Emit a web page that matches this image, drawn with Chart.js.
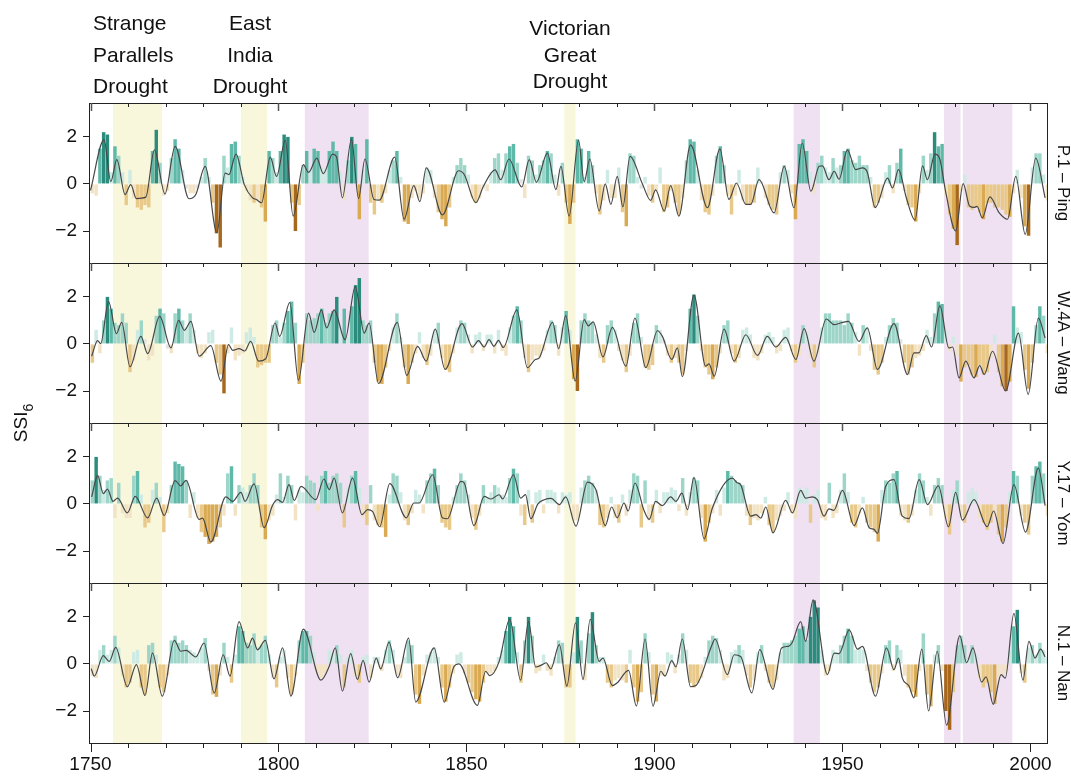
<!DOCTYPE html>
<html>
<head>
<meta charset="utf-8">
<script src="https://cdn.jsdelivr.net/npm/chart.js@4.4.1/dist/chart.umd.min.js"></script>
<style>
  html, body { margin: 0; padding: 0; background: #fff; }
  #wrap { position: relative; width: 1071px; height: 776px; }
</style>
</head>
<body>
<div id="wrap"><canvas id="chart"></canvas></div>
<script>
// Primer año de las barras anuales
const firstYear = 1750;

// Nombres de los paneles (arriba -> abajo)
const panelNames = ['P.1 – Ping', 'W.4A – Wang', 'Y.17 – Yom', 'N.1 – Nan'];

// Sequías históricas [inicio, fin, tipo]
const droughts = [
  [1756, 1769, 'y'], [1790, 1797, 'y'], [1876, 1879, 'y'],
  [1807, 1824, 'p'], [1937, 1944, 'p'], [1977, 1981.4, 'p'], [1982, 1995.2, 'p']
];
const droughtNames = [
  ['Strange', 'Parallels', 'Drought'],
  ['East', 'India', 'Drought'],
  ['Victorian', 'Great', 'Drought']
];

const xLabelYears = [1750, 1800, 1850, 1900, 1950, 2000];
const xTickYears = [1750,1760,1770,1780,1790,1800,1810,1820,1830,1840,1850,1860,1870,1880,1890,1900,1910,1920,1930,1940,1950,1960,1970,1980,1990,2000];
const yTicks = [-2, 0, 2];

// SSI6 anual (barras)
const pingBars = [
  -0.4,-0.5,1.5,2.2,2.1,0.5,1.6,1.2,0.5,-0.9,
  0.6,-0.6,-1.0,-1.1,-0.9,-1.0,1.4,2.3,0.9,-0.5,
  -0.3,1.1,1.9,1.5,0.6,-0.2,-0.4,-0.4,-0.2,0.3,
  1.1,0.3,-0.8,-2.1,-2.7,1.2,0.7,1.7,1.8,1.2,
  0.3,-0.3,-0.7,-0.8,-0.7,-1.0,-1.6,1.4,1.1,0.5,
  1.4,2.1,2.0,-0.8,-2.0,-0.9,0.8,1.4,0.6,1.5,
  1.4,0.7,0.6,1.4,1.8,1.4,0.5,-0.7,1.0,2.0,
  1.7,-1.5,0.6,1.9,-0.8,-1.3,-0.7,-0.8,-0.4,0.6,
  1.0,1.4,0.3,-1.6,-1.7,-0.6,-0.3,-0.6,-0.4,0.7,
  0.6,-0.6,-1.2,-1.5,-1.8,-1.0,0.3,0.8,1.1,0.8,
  0.4,-0.6,-0.8,-0.6,-0.2,-0.3,0.5,1.1,1.3,0.6,
  1.3,1.6,1.7,0.9,0.2,-0.6,1.2,1.0,0.4,0.8,
  1.0,1.4,1.3,0.4,-0.5,0.9,-0.8,-1.7,-0.8,1.9,
  1.5,0.3,1.4,0.8,-0.4,-1.3,-0.7,0.6,-0.6,-0.6,
  0.7,-1.2,-1.8,1.3,1.2,0.3,-0.2,0.3,-0.5,-0.8,
  -0.3,0.7,-1.2,-1.0,-0.3,-0.8,-1.3,-0.6,1.0,1.9,
  1.8,0.6,-0.7,-1.2,-1.3,-0.5,1.2,1.6,0.8,-0.5,
  -1.3,-0.5,0.6,-0.7,-0.9,-0.9,-0.8,0.7,0.1,-0.6,
  -0.9,-1.1,-1.3,0.5,0.8,0.6,-0.4,-1.5,1.7,1.9,
  1.4,0.5,-0.4,0.9,1.2,0.7,0.5,1.1,0.7,0.8,
  1.4,1.5,1.0,0.9,1.2,0.8,0.8,0.3,-1.0,-0.8,
  -0.6,0.5,0.8,-0.4,0.9,1.5,-0.3,-0.9,-1.0,-1.6,
  -0.4,1.2,0.6,1.3,2.2,1.6,1.7,-0.5,-1.3,-1.9,
  -2.6,-0.3,0.4,-1.0,-1.1,-1.0,-1.2,-1.5,-0.8,-0.8,
  -1.0,-1.0,-1.1,-1.3,-1.4,-0.4,0.6,-0.6,-1.8,-2.2,
  0.7,1.3,1.3,0.4,-0.7
];
const wangBars = [
  -0.8,0.6,-0.4,1.0,2.0,1.5,0.9,0.8,1.3,0.9,
  -1.2,-0.7,0.6,1.0,0.2,-0.7,-0.5,1.2,1.5,1.3,
  -0.2,-0.4,1.3,1.5,1.0,0.7,1.3,0.6,-0.4,-0.6,
  -0.4,0.5,0.6,-0.8,-1.3,-2.1,-0.4,0.7,-0.7,-0.5,
  -0.4,0.5,0.7,0.3,-1.0,-0.9,-0.8,-0.8,0.8,1.0,
  0.3,0.9,1.4,1.8,0.9,-1.7,-0.8,1.3,1.0,1.1,
  1.3,1.5,0.9,1.3,1.4,2.0,0.6,1.5,0.3,1.6,
  2.5,2.8,1.0,0.8,1.0,-0.8,-1.6,-1.7,-1.0,-0.3,
  0.7,1.3,0.3,-1.0,-1.7,-0.8,-0.4,0.5,-0.6,-0.9,
  -0.5,0.6,0.9,-0.6,-1.1,-1.2,-0.4,0.7,1.0,0.9,
  0.4,-0.4,0.4,0.5,-0.3,0.4,0.4,-0.4,0.6,-0.3,
  -0.5,0.7,1.2,1.6,1.0,-0.6,-1.2,-0.7,-0.5,-0.6,
  -0.3,0.6,1.0,0.8,-0.5,0.7,1.4,0.6,-1.5,-2.0,
  1.0,1.3,1.0,0.9,0.4,-0.6,-0.8,0.8,1.0,0.6,
  -0.3,-0.7,-1.2,-0.5,0.9,1.3,0.3,-1.0,-1.1,-0.9,
  0.8,0.6,0.2,-0.5,-0.8,-0.6,-0.8,-1.3,-0.3,1.5,
  2.1,1.2,-0.3,-1.0,-1.3,-1.5,-1.0,-0.4,0.8,1.0,
  -0.4,-0.8,-0.6,0.6,0.7,0.4,-0.6,-0.7,-0.4,0.4,
  0.5,0.3,-0.4,-0.3,0.6,0.7,-0.3,-0.8,-0.5,0.8,
  0.5,-0.6,-1.0,-0.4,0.7,1.3,1.3,1.0,1.0,1.0,
  0.8,1.3,0.9,0.5,-0.5,0.8,0.7,-0.3,-1.1,-1.3,
  -0.8,0.3,0.8,1.1,0.9,0.2,-0.8,-1.3,-1.0,-0.6,
  -0.5,-0.3,0.6,0.3,1.3,1.8,1.7,0.6,-0.3,0.3,
  -0.5,-1.6,-1.0,-0.9,-1.3,-1.4,-0.9,-1.3,-1.2,-0.6,
  0.4,-1.2,-1.8,-2.0,-1.6,1.6,0.7,0.5,-1.1,-1.9,
  -0.8,0.8,1.6,1.2,-0.4
];
const yomBars = [
  1.0,2.0,1.2,0.6,1.0,1.1,-0.6,0.9,-0.4,-0.6,
  -0.6,1.2,1.4,0.4,-1.0,-0.8,0.6,0.9,0.3,-1.2,
  -0.4,0.8,1.8,1.7,1.6,1.0,-0.6,0.5,-0.6,-1.2,
  -1.4,-1.7,-1.6,-1.4,-1.0,-0.5,1.3,1.6,-0.5,0.8,
  0.7,0.5,0.8,1.3,0.8,-1.0,-1.5,-0.7,-0.5,0.4,
  1.3,0.3,1.2,0.8,-0.7,0.6,0.5,1.2,1.0,0.9,
  -0.3,1.2,1.4,0.9,1.2,1.3,0.9,-1.0,0.7,1.2,
  1.4,0.7,-0.6,-0.9,0.8,-0.7,-0.9,-1.0,-1.4,0.4,
  1.3,1.2,0.5,-0.7,-0.9,-0.4,0.6,0.4,-0.4,1.0,
  1.3,1.5,0.8,-0.8,-1.0,-1.1,0.3,0.8,1.3,1.0,
  0.4,-0.6,-1.1,-0.5,0.8,0.3,0.5,0.8,0.7,0.4,
  0.3,1.1,1.5,1.3,-0.5,-0.9,0.6,-0.8,0.5,0.6,
  -0.4,0.6,0.6,0.5,-0.4,0.5,0.4,0.5,-0.7,-0.7,
  0.7,1.0,1.2,0.9,0.6,-0.9,-1.0,-0.6,0.3,-0.6,
  -0.8,0.4,-0.5,0.6,1.3,1.2,-1.0,1.0,-0.7,-0.8,
  0.6,-0.4,0.5,0.5,0.7,0.6,-0.3,1.1,-0.5,0.5,
  1.1,1.0,-0.6,-1.6,-0.8,-0.4,0.6,-0.5,0.7,1.4,
  1.2,1.0,0.9,0.8,-0.5,-0.9,-0.6,-0.7,-0.4,0.3,
  -0.9,-1.2,-0.7,-0.5,-0.3,0.5,-0.4,-0.6,0.7,0.6,
  0.7,-0.8,0.4,0.6,-0.6,-0.7,0.9,-0.6,-0.4,0.6,
  1.3,0.5,-0.8,-1.0,-0.4,0.3,-0.8,-1.0,-1.2,-1.6,
  0.6,1.0,0.9,1.3,1.4,-0.5,-0.7,-0.8,-0.5,0.6,
  1.3,1.0,0.3,-0.5,0.8,1.1,0.8,-0.6,-1.3,0.6,
  1.0,-0.6,-0.8,0.5,0.7,0.5,-0.6,-0.8,-1.1,-0.8,
  -0.5,-1.3,-1.6,-1.0,0.5,1.4,1.2,-0.5,-0.8,-1.3,
  1.2,1.6,1.8,1.3,-0.5
];
const nanBars = [
  -0.5,-0.6,0.6,0.8,0.4,0.6,1.2,0.7,-0.5,-1.0,
  -0.8,0.5,0.6,-1.0,-1.3,0.8,0.9,0.4,-1.0,-1.2,
  -0.5,1.0,1.2,0.9,1.0,0.8,0.6,0.5,0.4,0.7,
  1.1,-0.3,-1.3,-1.4,-0.5,0.9,0.3,-0.8,0.4,1.6,
  1.4,0.9,0.8,1.3,0.7,0.8,1.2,0.4,-0.6,-1.0,
  0.3,0.6,-0.6,-1.3,-0.5,1.0,1.4,1.4,1.2,0.5,
  -0.4,-0.6,-0.4,0.6,0.5,0.8,0.4,-1.0,0.3,0.6,
  -0.5,-0.8,0.3,0.4,-0.6,0.3,0.3,-0.3,0.6,1.0,
  0.6,-0.5,-0.6,0.3,1.0,0.8,-1.3,-1.7,-0.5,0.4,
  0.5,0.7,0.3,-1.0,-1.6,-1.0,-0.4,0.4,0.5,-0.4,
  -0.8,-1.2,-1.5,-1.6,-0.8,-0.4,-0.4,-0.3,0.3,0.6,
  1.4,2.0,1.6,0.5,-0.8,1.0,2.0,1.2,-0.4,-0.3,
  0.4,-0.3,-0.5,0.3,1.0,0.9,-1.0,-1.0,0.5,2.0,
  1.0,-0.7,1.3,2.2,0.8,0.3,0.3,-0.8,-1.0,-0.7,
  -0.6,-0.7,-0.8,0.6,-1.0,-1.6,-1.2,1.3,0.5,-1.3,
  -1.6,-0.5,-0.5,0.5,0.4,-0.4,0.4,1.3,0.6,-0.8,
  -1.0,-0.8,-0.6,0.3,1.0,1.2,1.1,0.6,-0.7,-0.6,
  0.5,0.6,0.8,0.6,-0.5,-1.0,-0.7,0.5,0.8,-0.3,
  -0.8,-1.0,-0.7,0.5,0.9,0.9,1.0,1.2,1.5,1.6,
  1.0,2.0,2.7,2.4,0.6,-0.5,-0.3,0.6,0.5,0.8,
  1.2,1.5,1.2,0.6,0.7,0.6,-0.3,-0.8,-1.2,-1.0,
  -0.4,0.8,1.0,-0.3,0.8,0.6,-0.5,-1.0,-1.2,-1.4,
  -0.3,1.3,-1.3,-1.8,0.4,0.8,-0.3,-2.0,-2.8,-1.2,
  0.8,1.2,0.8,0.3,0.8,0.4,-0.6,-1.0,-0.8,-1.2,
  -1.7,-0.6,-0.5,-0.4,0.6,1.6,2.3,-0.4,-0.8,0.7,
  0.8,0.4,0.9,0.6,0.3
];

// Curva suavizada [año, valor]
const pingLine = [
  [1750,-0.27],[1753.6,1.87],[1755.4,0.1],[1757,1.03],[1759.2,-0.45],[1760.7,-0.03],[1762.2,-0.62],[1764.7,-0.56],
  [1767,1.45],[1769.8,-0.42],[1772.5,1.6],[1776.2,-0.63],[1778,-0.45],[1780.5,0.75],[1783.6,-2.07],[1785.8,0.46],
  [1786.8,0.4],[1788.7,1.27],[1790.9,-0.03],[1793.1,-0.59],[1794.1,-0.66],[1795.5,-0.8],[1797.8,1.14],[1799.5,0.32],
  [1801.8,1.85],[1803.9,-1.37],[1806.6,0.82],[1808,0.49],[1810.2,1.1],[1811.9,0.44],[1814.4,1.27],[1815.4,1.17],
  [1817,-0.59],[1819.4,1.9],[1821.3,-0.62],[1823,1.06],[1825.4,-0.66],[1826.8,-0.69],[1830.9,1.14],[1833.4,-1.5],
  [1836,-0.07],[1837.6,-0.75],[1839.3,0.68],[1843.6,-1.32],[1847.9,0.56],[1849.4,0.4],[1852.5,-0.8],[1854.5,-0.1],
  [1857.6,0.6],[1859.1,0.18],[1861.3,1.06],[1864.7,-0.13],[1866.7,1.03],[1868.6,0.07],[1871.5,1.31],[1873.8,-0.24],
  [1875.1,0.75],[1877.3,-1.37],[1879.8,1.85],[1881.3,0.1],[1882.8,1.06],[1885.3,-1.15],[1886.9,0.0],[1888.4,-0.87],
  [1890.1,0.32],[1891.6,-0.97],[1893.5,1.17],[1896.8,0.0],[1899,-0.7],[1900.3,-0.25],[1902.6,-1.15],[1904.3,-0.07],
  [1906.5,-1.37],[1909.6,1.66],[1914.1,-1.01],[1917.4,1.49],[1919.8,-0.66],[1921.8,0.04],[1924.3,-0.87],[1925.6,-0.87],
  [1927.8,0.18],[1931.8,-1.23],[1934.5,0.75],[1937.1,-1.01],[1939.3,1.73],[1941.6,-0.31],[1943.8,0.75],[1944.7,0.77],
  [1946.4,0.18],[1947.8,0.54],[1949.1,0.2],[1951.3,1.45],[1953.5,0.61],[1955.3,0.68],[1956.6,0.5],[1958.7,-1.01],
  [1962,0.25],[1963.3,-0.17],[1964.9,0.61],[1967,-0.6],[1969.3,-1.54],[1971.3,0.77],[1972.6,0.18],[1974.6,1.27],
  [1975.8,1.1],[1977.5,-0.38],[1980.1,-2.0],[1982.1,0.01],[1983.8,-0.94],[1985,-1.0],[1985.8,-0.95],[1987.2,-1.44],
  [1989.2,-0.55],[1991.7,-1.23],[1993.9,-1.5],[1996.1,0.32],[1998.6,-2.14],[2001.4,1.1],[2003.9,-0.59]
];
const wangLine = [
  [1750.3,-0.52],[1751.9,0.14],[1752.7,0.01],[1754.8,1.8],[1756.9,0.44],[1758.3,0.92],[1760.5,-0.97],[1763.4,0.32],
  [1765.2,-0.41],[1768.4,1.17],[1771.4,-0.17],[1773.4,1.0],[1775,0.58],[1776.7,0.96],[1778.9,-0.52],[1782,-0.07],
  [1784.7,-1.58],[1786.7,-0.03],[1787.8,-0.27],[1789.5,-0.2],[1791,-0.3],[1792.6,0.11],[1794.7,-0.73],[1796.6,-0.63],
  [1799.1,0.89],[1800.3,0.32],[1803,1.76],[1805.3,-1.54],[1808,1.31],[1809.5,0.49],[1811.4,1.45],[1812.8,0.68],
  [1814.8,1.45],[1817.7,0.18],[1820.4,2.44],[1822.8,0.46],[1824.1,0.89],[1826.6,-1.68],[1831.6,0.92],[1834.1,-1.34],
  [1837,-0.1],[1839.3,-0.73],[1841.7,0.63],[1844.3,-1.08],[1848.8,0.86],[1851.6,-0.13],[1853.2,0.14],[1854.7,-0.13],
  [1856,0.18],[1857.3,-0.1],[1858.5,0.15],[1859.8,-0.15],[1863.4,1.45],[1866.2,-1.01],[1868.3,-0.66],[1869.3,-0.6],
  [1872.9,0.92],[1874.5,-0.2],[1876.4,1.2],[1878.9,-1.58],[1881.3,1.03],[1882.4,0.77],[1883.7,0.94],[1886.3,-0.55],
  [1888.8,0.7],[1892.4,-0.94],[1894.8,1.1],[1897.7,-1.01],[1900.8,0.56],[1902.1,0.32],[1904.6,-0.66],[1906.1,-0.17],
  [1907.4,-1.39],[1910.5,2.08],[1913.6,-0.94],[1914.5,-0.85],[1915.9,-1.37],[1918.5,0.63],[1921.2,-0.73],[1924.3,0.39],
  [1927.4,-0.49],[1930,0.32],[1932.3,-0.13],[1934.9,0.28],[1937.6,-0.66],[1939.8,0.65],[1942.4,-0.73],[1945.7,1.06],
  [1947.8,0.82],[1949.5,0.89],[1951.6,0.96],[1954.4,0.11],[1956.6,0.68],[1959.3,-1.08],[1963.7,0.86],[1967.3,-1.3],
  [1969,-0.38],[1970.3,-0.38],[1972.3,0.35],[1973.7,-0.13],[1975.9,1.62],[1978.3,-0.17],[1979.3,-0.13],[1981,-1.44],
  [1982.8,-0.73],[1985,-1.44],[1986.5,-0.92],[1987.7,-1.3],[1989.9,-0.31],[1993.4,-2.0],[1996.8,0.46],[1999.4,-2.14],
  [2002.1,1.1],[2003.9,0.25]
];
const yomLine = [
  [1750.3,0.3],[1751.9,1.2],[1753.4,0.44],[1754.5,0.63],[1756,0.11],[1757.2,0.25],[1759.8,-0.38],[1761.9,0.32],
  [1765.2,-0.59],[1767.6,0.25],[1769.6,-0.49],[1772.5,0.99],[1774,0.77],[1775.4,1.0],[1778.9,-0.66],[1779.8,-0.6],
  [1782,-1.62],[1786,0.3],[1787.8,0.11],[1790,0.49],[1791.1,0.11],[1793.5,0.85],[1796.2,-1.01],[1798.4,-0.07],
  [1799.7,0.18],[1801.1,0.07],[1802.8,0.82],[1804.2,0.15],[1806,0.75],[1809.9,0.18],[1812.1,1.06],[1813.5,0.61],
  [1814.8,1.1],[1817,-0.38],[1819.7,1.1],[1822.2,-0.45],[1823.7,-0.24],[1825,-0.32],[1826.9,-0.97],[1829.6,0.86],
  [1834,-0.59],[1836,0.04],[1837.4,0.04],[1841,1.24],[1843.6,-0.59],[1844.9,-0.63],[1848.5,0.96],[1849.4,0.89],
  [1852,-0.92],[1854.7,0.32],[1856.5,0.21],[1858.7,0.39],[1859.6,0.21],[1862.5,1.24],[1864.4,0.25],[1865.7,0.4],
  [1867.1,-0.63],[1869,0.0],[1870.7,0.18],[1872.5,0.24],[1874.7,-0.03],[1876.4,0.3],[1879.1,-0.94],[1882.2,0.93],
  [1884.4,0.61],[1886.9,-0.92],[1888.6,-0.13],[1890.1,-0.59],[1891.9,0.04],[1893,-0.3],[1894.8,0.89],[1897.2,-0.27],
  [1898.6,-0.66],[1900.3,0.11],[1902.1,-0.07],[1904.3,0.3],[1905.7,0.11],[1907.3,0.46],[1908.8,-0.24],[1910.5,1.13],
  [1913.2,-1.48],[1915.4,-0.17],[1920.7,1.1],[1922,0.9],[1922.9,0.82],[1925.6,-0.52],[1927,-0.45],[1928.3,-0.6],
  [1929.6,-0.13],[1931.5,-1.23],[1934.9,0.15],[1936.7,-0.38],[1938.9,0.58],[1940.2,0.25],[1942,0.3],[1943.3,0.18],
  [1945.1,-0.52],[1946.4,-0.21],[1947.7,-0.27],[1950,0.58],[1953.1,-0.92],[1955.3,-0.17],[1957.1,-1.01],[1958.4,-1.08],
  [1959.3,-1.25],[1961.5,0.75],[1963.7,1.03],[1965.9,-0.52],[1967.7,-0.62],[1970.4,1.03],[1972.6,-0.03],[1975.5,0.77],
  [1978.2,-0.97],[1980.1,0.49],[1981.9,-0.69],[1985,0.18],[1988.5,-0.97],[1990.2,-0.3],[1992.7,-1.68],[1995.6,0.82],
  [1998.7,-1.2],[2002.1,1.52],[2003.9,-0.07]
];
const nanLine = [
  [1750.2,-0.2],[1751,-0.52],[1753.4,0.35],[1755,0.11],[1756.7,0.7],[1759.8,-0.97],[1762.2,-0.03],[1764.5,-1.34],
  [1766.5,0.46],[1769.1,-1.37],[1772.3,1.0],[1774,0.54],[1775.4,0.58],[1778,0.3],[1780.2,0.89],[1782.9,-1.23],
  [1785.3,0.39],[1787.1,-0.52],[1789.5,1.8],[1791.8,0.68],[1793.1,1.1],[1794.4,0.6],[1796.5,1.0],[1798.8,-0.63],
  [1801.1,0.68],[1803.3,-1.37],[1806.6,1.48],[1811.3,-0.69],[1813.5,-0.1],[1815.1,0.68],[1817,-1.15],[1819.2,0.44],
  [1821,-0.66],[1822.5,0.15],[1824.1,-0.77],[1826,0.25],[1827.2,-0.21],[1829.4,0.93],[1831.7,-0.59],[1834.6,1.1],
  [1836.5,-1.62],[1841.4,0.68],[1844.1,-1.62],[1846.7,-0.1],[1848,0.0],[1852.9,-1.76],[1855.1,-0.31],[1856.2,-0.5],
  [1858.7,0.11],[1861.5,1.9],[1864.4,-0.69],[1866.5,1.8],[1868.4,-0.13],[1870.2,-0.03],[1871.2,0.05],[1872.4,-0.21],
  [1874.7,0.82],[1876.7,-0.94],[1879,1.75],[1881,-0.66],[1882.9,1.9],[1885.3,0.11],[1886.3,0.25],[1888.8,-0.92],
  [1890.1,-0.8],[1893.1,-0.27],[1895.2,-1.79],[1897.5,1.06],[1899.6,-1.79],[1901.7,-0.31],[1902.8,-0.52],[1904.6,0.14],
  [1905.7,-0.13],[1907.4,1.06],[1909.6,-0.97],[1911,-0.92],[1915.4,0.85],[1916.1,1.06],[1919.4,-0.45],[1921.2,0.39],
  [1922.9,0.32],[1925.9,-1.23],[1928,0.61],[1931.5,-1.08],[1933.8,0.68],[1935.6,0.75],[1936.6,0.9],[1938.9,1.8],
  [1940.2,0.96],[1942.2,2.72],[1946,-0.45],[1947.8,0.46],[1949.1,0.44],[1951.8,1.45],[1954,0.63],[1955.3,0.75],
  [1958.8,-1.37],[1961.7,0.68],[1963.7,-0.24],[1964.9,0.25],[1965.9,-0.59],[1967.7,-0.94],[1969,-1.44],[1971.1,0.63],
  [1972.9,-2.0],[1975.2,0.54],[1977.7,-2.6],[1981.2,1.2],[1983,0.05],[1984.7,0.68],[1987,-0.77],[1988.2,-0.55],
  [1990.1,-1.72],[1992.2,-0.45],[1993.3,-0.6],[1995.6,2.15],[1998,-0.69],[1999.6,0.96],[2001.2,0.25],[2002.7,0.63],
  [2003.9,0.3]
];

const panelBars = [pingBars, wangBars, yomBars, nanBars];
const panelLines = [pingLine, wangLine, yomLine, nanLine];

// Estilo
const FONT = '"Liberation Sans", Arial, Helvetica, sans-serif';
const yellowShade = '#f8f7dc';
const purpleShade = '#f0e1f2';
const axisColor = '#222';

function barColor(v) {
  if (v >= 2.0) return '#2b8c7e';
  if (v >= 1.4) return '#5fb9a8';
  if (v >= 0.8) return '#9dd6c9';
  if (v >= 0.3) return '#cdebe4';
  if (v > -0.3) return '#e3e3e3';
  if (v > -0.8) return '#f2e3c4';
  if (v > -1.4) return '#e8c989';
  if (v > -2.0) return '#d9aa52';
  return '#a8681c';
}

Chart.defaults.font.family = FONT;
Chart.defaults.color = '#111';

const panelIds = ['p1', 'p2', 'p3', 'p4'];
const datasets = [];
panelIds.forEach((id, p) => {
  const vals = panelBars[p];
  datasets.push({
    type: 'line',
    data: panelLines[p].map(d => ({ x: d[0], y: d[1] })),
    yAxisID: id,
    borderColor: '#474747',
    borderWidth: 1.2,
    pointRadius: 0,
    cubicInterpolationMode: 'monotone',
    order: 0
  });
  datasets.push({
    type: 'bar',
    data: vals.map((v, i) => ({ x: firstYear + i + 0.5, y: v })),
    yAxisID: id,
    backgroundColor: vals.map(barColor),
    barPercentage: 1,
    categoryPercentage: 0.92,
    grouped: false,
    order: 1
  });
});

function panelAxis(weight) {
  return {
    type: 'linear',
    position: 'left',
    stack: 'panels',
    stackWeight: 1,
    weight: weight,
    offset: false,
    min: -3.36,
    max: 3.44,
    afterBuildTicks: s => { s.ticks = yTicks.map(v => ({ value: v })); },
    afterFit: s => { s.width = 89; },
    grid: { drawOnChartArea: false, drawTicks: true, tickLength: 6, color: axisColor },
    border: { display: false },
    ticks: {
      font: { size: 19 },
      color: '#111',
      padding: 6,
      callback: v => (v < 0 ? '−' + Math.abs(v) : String(v))
    }
  };
}

const decor = {
  id: 'decor',
  beforeDatasetsDraw(chart) {
    const { ctx, chartArea: a, scales } = chart;
    const x = scales.x;
    ctx.save();
    droughts.forEach(d => {
      const x0 = x.getPixelForValue(d[0]);
      const x1 = x.getPixelForValue(d[1]);
      ctx.fillStyle = d[2] === 'y' ? yellowShade : purpleShade;
      ctx.fillRect(x0, a.top, x1 - x0, a.bottom - a.top);
    });
    ctx.restore();
  },
  afterDraw(chart) {
    const { ctx, chartArea: a, scales } = chart;
    const x = scales.x;
    ctx.save();

    panelIds.forEach((id, p) => {
      const s = scales[id];
      // marco del panel
      ctx.strokeStyle = axisColor;
      ctx.lineWidth = 1;
      ctx.strokeRect(Math.round(a.left) + 0.5, Math.round(s.top) + 0.5, Math.round(a.right - a.left), Math.round(s.bottom - s.top));
      // marcas superiores
      xTickYears.forEach(yr => {
        const px = Math.round(x.getPixelForValue(yr)) + 0.5;
        const major = yr % 50 === 0;
        ctx.strokeStyle = major ? '#555' : axisColor;
        ctx.lineWidth = major ? 1.5 : 1;
        ctx.beginPath();
        ctx.moveTo(px, s.top);
        ctx.lineTo(px, s.top + (major ? 8 : 4));
        ctx.stroke();
      });
      // nombre del panel a la derecha
      ctx.save();
      ctx.fillStyle = '#111';
      ctx.font = '17px ' + FONT;
      ctx.translate(a.right + 16, (s.top + s.bottom) / 2);
      ctx.rotate(Math.PI / 2);
      ctx.textAlign = 'center';
      ctx.textBaseline = 'middle';
      ctx.fillText(panelNames[p], 0, 0);
      ctx.restore();
    });

    // marcas del eje x inferior
    ctx.strokeStyle = axisColor;
    ctx.lineWidth = 1;
    xTickYears.forEach(yr => {
      const px = Math.round(x.getPixelForValue(yr)) + 0.5;
      ctx.beginPath();
      ctx.moveTo(px, a.bottom);
      ctx.lineTo(px, a.bottom + (yr % 50 === 0 ? 9 : 5));
      ctx.stroke();
    });

    // título del eje y
    ctx.save();
    ctx.fillStyle = '#111';
    ctx.translate(20, (a.top + a.bottom) / 2);
    ctx.rotate(-Math.PI / 2);
    ctx.font = '19px ' + FONT;
    const w1 = ctx.measureText('SSI').width;
    ctx.font = '14px ' + FONT;
    const w2 = ctx.measureText('6').width;
    ctx.textBaseline = 'alphabetic';
    ctx.textAlign = 'left';
    ctx.font = '19px ' + FONT;
    ctx.fillText('SSI', -(w1 + w2) / 2, 7);
    ctx.font = '14px ' + FONT;
    ctx.fillText('6', -(w1 + w2) / 2 + w1, 13);
    ctx.restore();

    // nombres de las sequías
    ctx.fillStyle = '#111';
    ctx.font = '21px ' + FONT;
    ctx.textBaseline = 'alphabetic';
    const labelPos = [
      ['left', 93, [30, 62, 93]],
      ['center', 250, [30, 62, 93]],
      ['center', 570, [35, 62, 88]]
    ];
    droughtNames.forEach((lines, i) => {
      ctx.textAlign = labelPos[i][0];
      lines.forEach((t, j) => ctx.fillText(t, labelPos[i][1], labelPos[i][2][j]));
    });
    ctx.restore();
  }
};

new Chart(document.getElementById('chart'), {
  type: 'bar',
  data: { datasets },
  options: {
    responsive: true,
    maintainAspectRatio: false,
    animation: false,
    layout: { padding: { top: 103, right: 24, left: 0, bottom: 0 } },
    plugins: { legend: { display: false }, tooltip: { enabled: false } },
    scales: {
      x: {
        type: 'linear',
        offset: false,
        min: 1749.6,
        max: 2004.4,
        afterBuildTicks: s => { s.ticks = xLabelYears.map(v => ({ value: v })); },
        afterFit: s => { s.height = 33; },
        grid: { display: false, drawTicks: false, offset: false },
        border: { display: false },
        ticks: { font: { size: 19 }, color: '#111', padding: 10, maxRotation: 0, autoSkip: false, callback: v => String(v) }
      },
      p4: panelAxis(1),
      p3: panelAxis(2),
      p2: panelAxis(3),
      p1: panelAxis(4)
    }
  },
  plugins: [decor]
});
</script>
</body>
</html>
